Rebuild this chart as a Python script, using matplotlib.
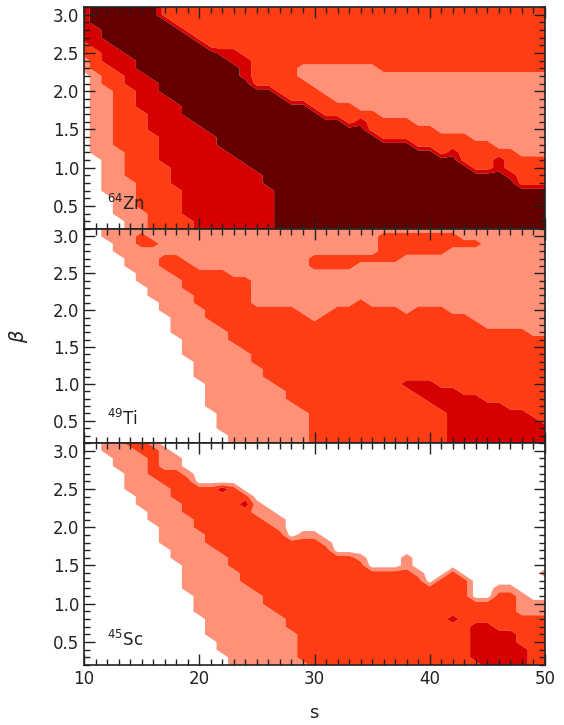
import matplotlib
matplotlib.use("Agg")
import matplotlib.pyplot as plt
import numpy as np
from matplotlib.ticker import MultipleLocator

# grid of the model runs: s = 10..50 step 1, beta = 3.1 .. 0.2 step 0.1 (rows, top first)
s_vals = np.arange(10, 51, 1)
beta_vals = np.round(np.arange(3.1, 0.15, -0.1), 1)

# level index, run-length coded "level*count"
# 0 white, 1 salmon, 2 orange, 3 red, 4 dark red
zn_rows = [
    "3*1 4*6 2*34", "3*1 4*6 2*34", "3*1 4*7 2*33", "3*2 4*7 2*32",
    "3*2 4*8 2*31", "2*1 3*2 4*8 2*30", "2*2 3*2 4*8 3*2 2*27",
    "1*1 2*1 3*3 4*8 3*2 2*26", "1*1 2*2 3*2 4*9 3*1 2*4 1*7 2*15",
    "0*1 1*1 2*2 3*2 4*8 3*1 2*4 1*22", "0*1 1*1 2*2 3*3 4*8 2*5 1*21",
    "0*1 1*2 2*2 3*2 4*10 2*4 1*20", "0*1 1*2 2*2 3*3 4*10 2*4 1*19",
    "0*1 1*2 2*2 3*4 4*11 2*4 1*17", "0*1 1*2 2*3 3*3 4*12 2*5 1*15",
    "0*1 1*2 2*3 3*4 4*13 2*1 3*1 2*4 1*12", "0*1 1*2 2*3 3*5 4*14 2*6 1*10",
    "0*1 1*2 2*4 3*5 4*14 2*8 1*7", "0*1 1*2 2*4 3*5 4*17 2*7 1*5",
    "0*1 1*3 2*3 3*6 4*18 2*1 3*1 2*5 1*3", "0*2 1*2 2*3 3*7 4*19 2*3 3*1 2*4",
    "0*2 1*2 2*4 3*7 4*19 2*2 3*1 2*4", "0*2 1*2 2*4 3*8 4*21 3*1 2*3",
    "0*2 1*3 2*3 3*8 4*22 2*3", "0*2 1*3 2*4 3*8 4*24",
    "0*3 1*2 2*4 3*8 4*24", "0*3 1*2 2*4 3*8 4*24",
    "0*3 1*3 2*3 3*8 4*24", "0*4 1*2 2*4 3*7 4*24", "0*4 1*2 2*4 3*7 4*24",
]
ti_rows = [
    "0*2 1*39", "0*2 1*3 2*1 1*20 2*7 1*8", "0*3 1*2 2*2 1*19 2*9 1*6",
    "0*3 1*23 2*6 1*9", "0*4 1*3 2*2 1*11 2*8 1*13", "0*4 1*3 2*3 1*10 2*4 1*17",
    "0*5 1*3 2*5 1*28", "0*5 1*4 2*6 1*26", "0*6 1*3 2*6 1*26",
    "0*6 1*4 2*5 1*26", "0*7 1*3 2*5 1*9 2*1 1*16",
    "0*7 1*4 2*8 1*3 2*6 1*1 2*3 1*9", "0*8 1*3 2*9 1*1 2*13 1*7",
    "0*8 1*4 2*23 1*6", "0*8 1*5 2*26 1*2", "0*9 1*4 2*28", "0*9 1*5 2*27",
    "0*9 1*6 2*26", "0*10 1*5 2*26", "0*10 1*6 2*25", "0*10 1*6 2*25",
    "0*11 1*6 2*11 3*3 2*10", "0*11 1*7 2*11 3*4 2*8", "0*11 1*7 2*12 3*5 2*6",
    "0*11 1*8 2*12 3*6 2*4", "0*12 1*8 2*12 3*7 2*2", "0*12 1*8 2*12 3*8 2*1",
    "0*12 1*8 2*12 3*9", "0*13 1*7 2*12 3*9", "0*13 1*7 2*12 3*9",
]
sc_rows = [
    "0*2 1*2 2*2 1*1 0*34", "0*2 1*3 2*2 1*1 0*33", "0*3 1*3 2*1 1*2 0*32",
    "0*3 1*3 2*1 1*2 0*32", "0*4 1*2 2*3 1*1 0*31", "0*4 1*3 2*3 0*31",
    "0*4 1*4 2*4 3*1 2*1 0*27", "0*5 1*3 2*7 0*26", "0*5 1*4 2*5 3*1 1*1 0*25",
    "0*6 1*3 2*6 1*2 0*24", "0*6 1*4 2*6 1*2 0*23", "0*7 1*3 2*7 1*1 0*23",
    "0*7 1*4 2*7 0*1 1*2 0*20", "0*7 1*4 2*10 1*1 0*19", "0*8 1*4 2*10 0*19",
    "0*8 1*5 2*11 1*1 0*3 1*1 0*12", "0*9 1*4 2*12 0*3 1*1 0*12",
    "0*9 1*5 2*15 1*1 0*2 2*1 0*7 1*1", "0*9 1*5 2*16 0*1 2*3 0*7",
    "0*9 1*6 2*19 0*2 1*2 0*3", "0*10 1*6 2*18 0*2 2*2 1*1 0*2",
    "0*10 1*6 2*22 1*3", "0*10 1*7 2*21 1*3", "0*11 1*7 2*14 3*1 2*8",
    "0*11 1*7 2*16 3*2 2*5", "0*11 1*8 2*15 3*4 2*3", "0*12 1*7 2*15 3*4 2*3",
    "0*12 1*7 2*15 3*5 2*2", "0*13 1*6 2*15 3*5 2*2", "0*13 1*7 2*15 3*4 2*2",
]
labels = ["$^{64}$Zn", "$^{49}$Ti", "$^{45}$Sc"]


def decode(rows):
    grid = []
    for r in rows:
        line = []
        for tok in r.split():
            lev, n = tok.split("*")
            line += [int(lev)] * int(n)
        assert len(line) == len(s_vals), (r, len(line))
        grid.append(line)
    return np.array(grid, dtype=float)


colors = ["#ffffff", "#ff9178", "#ff3d14", "#d70000", "#640000"]
levels = [-0.5, 0.5, 1.5, 2.5, 3.5, 4.5]

plt.rcParams["font.family"] = ["DejaVu Sans"]
fig = plt.figure(figsize=(5.64, 7.25), dpi=100)

W, H = 564.0, 725.0
left, right = 84, 545
panels = [(7, 229), (229, 443), (443, 665)]
S, B = np.meshgrid(s_vals, beta_vals)

for i, (rows, lab) in enumerate(zip([zn_rows, ti_rows, sc_rows], labels)):
    y0, y1 = panels[i]
    ax = fig.add_axes([left / W, 1 - y1 / H, (right - left) / W, (y1 - y0) / H])
    Z = decode(rows)
    ax.contourf(S, B, Z, levels=levels, colors=colors, antialiased=True)
    ax.set_xlim(10, 50)
    ax.set_ylim(0.2, 3.1)
    ax.xaxis.set_major_locator(MultipleLocator(10))
    ax.xaxis.set_minor_locator(MultipleLocator(1))
    ax.yaxis.set_major_locator(MultipleLocator(0.5))
    ax.yaxis.set_minor_locator(MultipleLocator(0.1))
    ax.set_yticks([0.5, 1.0, 1.5, 2.0, 2.5, 3.0])
    ax.set_yticklabels(["0.5", "1.0", "1.5", "2.0", "2.5", "3.0"])
    ax.tick_params(which="both", direction="in", top=True, right=True,
                   labelsize=12, colors="#222222", width=1)
    ax.tick_params(which="major", length=8)
    ax.tick_params(which="minor", length=4)
    for sp in ax.spines.values():
        sp.set_linewidth(1.2)
        sp.set_color("#222222")
    if i < 2:
        ax.set_xticklabels([])
    ax.text(12.0, 0.45, lab, fontsize=12, color="#222222")

fig.text(18 / W, 1 - 336 / H, r"$\beta$", rotation=90, fontsize=14,
         ha="center", va="center", color="#222222")
fig.text(314 / W, 1 - 713 / H, "s", fontsize=13, ha="center", va="center",
         color="#222222")

fig.savefig("out.png", dpi=100)
